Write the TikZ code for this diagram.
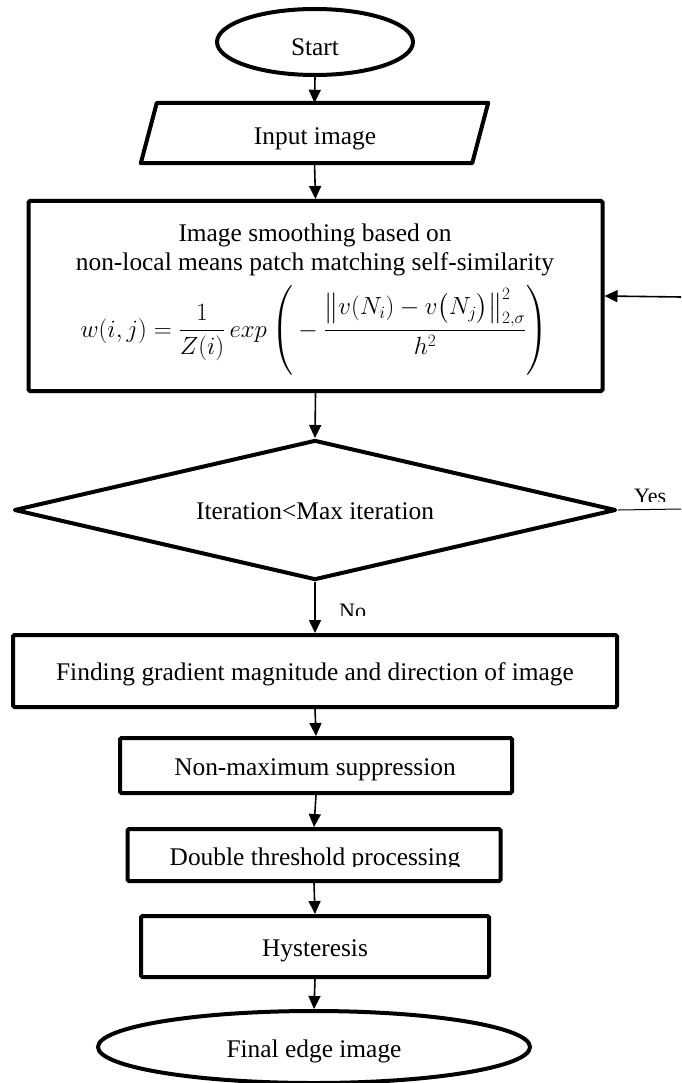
\documentclass[tikz,border=0pt]{standalone}
\usepackage{amsmath}
\usepackage{fontspec}
\setmainfont{Liberation Serif}
\usetikzlibrary{shapes.geometric,arrows.meta}

\tikzset{
  txt/.style={font=\fontsize{25.4}{29}\selectfont, inner sep=0pt, anchor=base},
  mathtxt/.style={font=\fontsize{23.5}{27}\selectfont, inner sep=0pt, anchor=base},
  lbl/.style={font=\fontsize{22}{26}\selectfont, inner sep=0pt, anchor=base west},
  stepbox/.style={draw, rectangle, line width=4pt, rounded corners=1.5pt, inner sep=0pt},
  term/.style={draw, ellipse, line width=4pt, inner sep=0pt},
  decide/.style={draw, diamond, line width=4pt, inner sep=0pt, line join=round},
  arr/.style={-{Triangle[length=13pt,width=12pt]}, line width=1.6pt},
}

\begin{document}
\begin{tikzpicture}[x=1pt,y=-1pt]
\useasboundingbox (0,0) rectangle (681,1083);

% shapes of the flow
\node[term, minimum width=196pt, minimum height=66pt] (start) at (315,42) {};
\node[txt] (startlbl) at (315,56) {Start};

\node[minimum width=315pt, minimum height=60pt, inner sep=0pt] (input) at (314.5,133) {};
\draw[line width=4pt, line join=round]
  (input.north west) -- ([xshift=16pt]input.north east) --
  (input.south east) -- ([xshift=-16pt]input.south west) -- cycle;
\node[txt] (inputlbl) at (315,145) {Input image};

\node[stepbox, minimum width=574pt, minimum height=190pt] (smooth) at (315.5,296) {};
\node[txt] (sm1) at (315,241) {Image smoothing based on};
\node[txt] (sm2) at (315,270) {non-local means patch matching self-similarity};
\node[mathtxt] (sm3) at (314.5,337)
  {$w(i,j)=\dfrac{1}{Z(i)}\,exp\left(\rule[-33pt]{0pt}{66pt}-\dfrac{\bigl\|v(N_i)-v\bigl(N_j\bigr)\bigr\|_{2,\sigma}^{2}}{h^{2}}\right)$};

\node[decide, minimum width=602pt, minimum height=140pt] (dec) at (315,510) {};
\node[txt] (declbl) at (315,519) {Iteration<Max iteration};

\node[stepbox, minimum width=604pt, minimum height=72pt] (grad) at (315,671) {};
\node[txt] (gradlbl) at (315,680) {Finding gradient magnitude and direction of image};

\node[stepbox, minimum width=392pt, minimum height=55pt] (nms) at (316,765.5) {};
\node[txt] (nmslbl) at (315,775) {Non-maximum suppression};

\node[stepbox, minimum width=373pt, minimum height=52pt] (dbl) at (314,855) {};
\begin{scope}
  \clip (130,830) rectangle (497,866.5);
  \node[txt] (dbllbl) at (315,865) {Double threshold processing};
\end{scope}

\node[stepbox, minimum width=348pt, minimum height=61pt] (hyst) at (315,946.5) {};
\node[txt] (hystlbl) at (315,956) {Hysteresis};

\node[term, minimum width=432pt, minimum height=72pt] (final) at (314,1047) {};
\node[txt] (finallbl) at (314,1057) {Final edge image};

% loop entry and exit points at the right margin
\coordinate (loopin) at (681,297);
\coordinate (yesend) at (681,509);

% connectors
\draw[arr] (start.south) -- (input.north);
\draw[arr] (input.south) -- (smooth.north);
\draw[arr] (loopin) -- (smooth.east);
\draw[arr] (smooth.south) -- (dec.north);
\draw[line width=1pt] (dec.east) -- (yesend);
\draw[arr] (dec.south) -- (grad.north);
\draw[arr] (grad.south) -- (nms.north);
\draw[arr] (nms.south) -- (dbl.north);
\draw[arr] (dbl.south) -- (hyst.north);
\draw[arr] (hyst.south) -- (final.north);

% branch labels
\begin{scope}
  \clip (625,470) rectangle (681,501.5);
  \node[lbl] (yeslbl) at (634,503) {Yes};
\end{scope}
\begin{scope}
  \clip (330,585) rectangle (385,615.5);
  \node[lbl] (nolbl) at (339,618) {No};
\end{scope}
\end{tikzpicture}
\end{document}
